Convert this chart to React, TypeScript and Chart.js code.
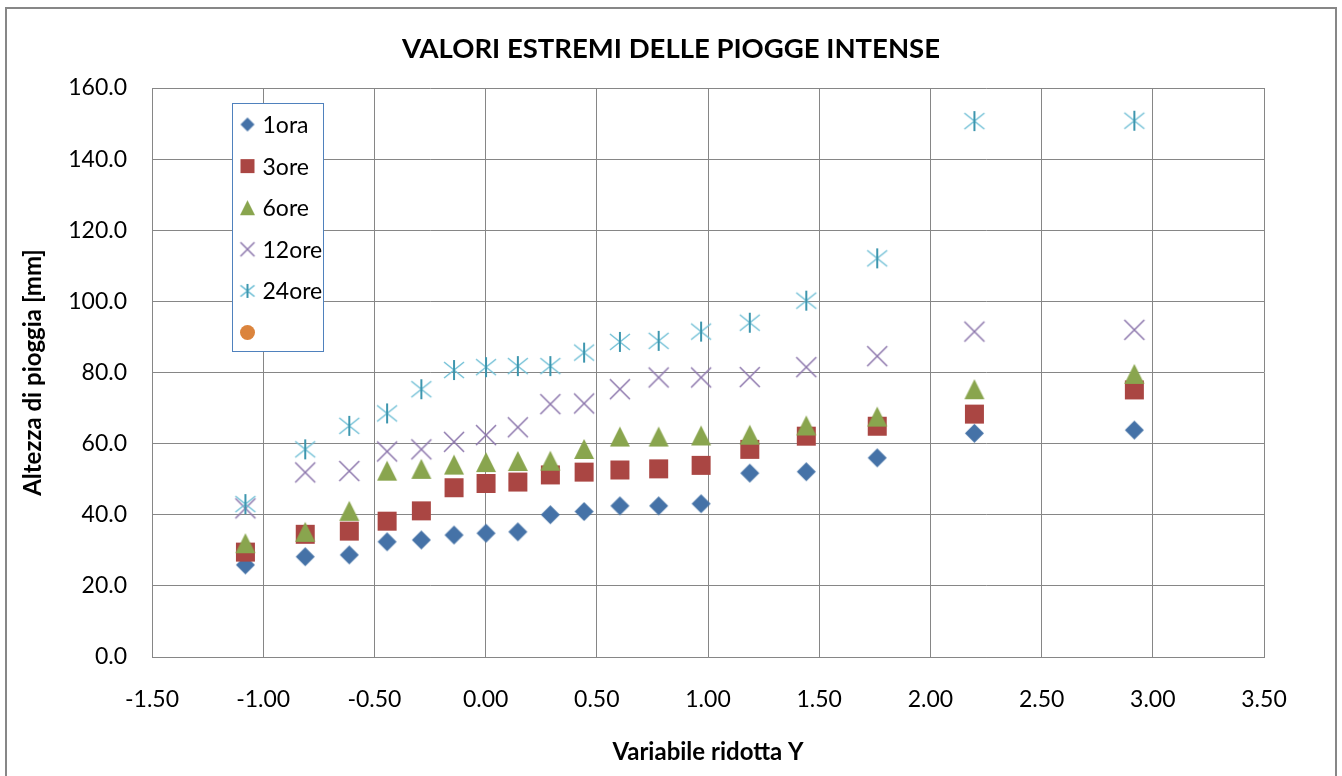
import React, { useEffect, useRef } from "react";
import { Chart, registerables } from "chart.js";

Chart.register(...registerables);

// Reduced variable Y (Gumbel) — x positions
const reducedY = [
  -1.08, -0.811, -0.613, -0.443, -0.289, -0.142, 0.002, 0.145, 0.291, 0.443,
  0.604, 0.778, 0.969, 1.188, 1.442, 1.761, 2.198, 2.917,
];

// Rainfall heights [mm]
const ora1 = [25.9, 28.2, 28.7, 32.4, 32.9, 34.3, 34.8, 35.2, 40.0, 40.9, 42.5, 42.5, 43.1, 51.7, 52.1, 56.0, 62.9, 63.8];
const ore3 = [29.5, 34.5, 35.4, 38.2, 41.1, 47.6, 48.8, 49.2, 51.2, 52.0, 52.6, 52.9, 53.9, 58.4, 62.1, 64.9, 68.3, 75.1];
const ore6 = [32.0, 35.2, 41.1, 52.4, 52.9, 54.1, 54.8, 55.1, 55.2, 58.5, 62.0, 62.0, 62.3, 62.5, 65.1, 67.6, 75.3, 79.6];
const ore12 = [41.8, 51.9, 52.3, 57.8, 58.4, 60.5, 62.4, 64.6, 71.1, 71.3, 75.3, 78.6, 78.6, 78.7, 81.5, 84.6, 91.5, 92.0];
const ore24 = [43.0, 58.4, 65.0, 68.5, 75.3, 80.7, 81.5, 81.8, 81.8, 85.6, 88.6, 88.9, 91.5, 94.0, 100.2, 112.1, 150.7, 150.8];
const emptySeries: number[] = [];

const seriesNames = ["1ora", "3ore", "6ore", "12ore", "24ore", ""];
const seriesKinds = ["diamond", "square", "triangle", "x", "star", "circle"];

const xMin = -1.5;
const xMax = 3.5;
const xStep = 0.5;
const yMin = 0;
const yMax = 160;
const yStep = 20;

const titleText = "VALORI ESTREMI DELLE PIOGGE INTENSE";
const xTitle = "Variabile ridotta Y";
const yTitle = "Altezza di pioggia [mm]";

const FONT = 'Lato, "Open Sans", sans-serif';

function makeMarker(kind: string, size: number): HTMLCanvasElement {
  const pad = 2;
  const s = Math.ceil(size + pad * 2);
  const c = document.createElement("canvas");
  c.width = s;
  c.height = s;
  const ctx = c.getContext("2d")!;
  const cx = s / 2;
  const cy = s / 2;
  const h = size / 2;
  ctx.lineCap = "butt";
  switch (kind) {
    case "diamond":
      ctx.fillStyle = "#4572A7";
      ctx.beginPath();
      ctx.moveTo(cx, cy - h);
      ctx.lineTo(cx + h, cy);
      ctx.lineTo(cx, cy + h);
      ctx.lineTo(cx - h, cy);
      ctx.closePath();
      ctx.fill();
      break;
    case "square":
      ctx.fillStyle = "#AA4643";
      ctx.fillRect(cx - h, cy - h, size, size);
      break;
    case "triangle":
      ctx.fillStyle = "#89A54E";
      ctx.beginPath();
      ctx.moveTo(cx, cy - h);
      ctx.lineTo(cx + h, cy + h);
      ctx.lineTo(cx - h, cy + h);
      ctx.closePath();
      ctx.fill();
      break;
    case "x":
      ctx.strokeStyle = "#8C76AC";
      ctx.lineWidth = 1.5;
      ctx.beginPath();
      ctx.moveTo(cx - h, cy - h);
      ctx.lineTo(cx + h, cy + h);
      ctx.moveTo(cx + h, cy - h);
      ctx.lineTo(cx - h, cy + h);
      ctx.stroke();
      break;
    case "star":
      ctx.strokeStyle = "#72C0D6";
      ctx.lineWidth = 1.5;
      ctx.beginPath();
      ctx.moveTo(cx - h, cy - h * 0.8);
      ctx.lineTo(cx + h, cy + h * 0.8);
      ctx.moveTo(cx + h, cy - h * 0.8);
      ctx.lineTo(cx - h, cy + h * 0.8);
      ctx.stroke();
      ctx.strokeStyle = "#3D96AE";
      ctx.lineWidth = 2;
      ctx.beginPath();
      ctx.moveTo(cx, cy - h);
      ctx.lineTo(cx, cy + h);
      ctx.stroke();
      break;
    case "circle":
      ctx.fillStyle = "#DB843D";
      ctx.beginPath();
      ctx.arc(cx, cy, h, 0, Math.PI * 2);
      ctx.fill();
      break;
  }
  return c;
}

export default function App() {
  const canvasRef = useRef<HTMLCanvasElement | null>(null);

  useEffect(() => {
    const canvas = canvasRef.current;
    if (!canvas) return;

    const plotSizes = [19, 19, 20, 20, 20, 16];
    const legendSizes = [14, 14, 15, 14, 14, 15];
    const plotMarkers = seriesKinds.map((k, i) => makeMarker(k, plotSizes[i]));
    const legendMarkers = seriesKinds.map((k, i) => makeMarker(k, legendSizes[i]));

    const seriesValues = [ora1, ore3, ore6, ore12, ore24, emptySeries];

    const datasets = seriesValues.map((vals, i) => ({
      label: seriesNames[i],
      data: vals.map((v, j) => ({ x: reducedY[j], y: v })),
      pointStyle: plotMarkers[i] as any,
      pointRadius: 10,
      pointHoverRadius: 10,
      showLine: false,
      order: 6 - i,
    }));

    const framePlugin = {
      id: "frame",
      beforeDraw(chart: any) {
        const { ctx, width, height } = chart;
        ctx.save();
        ctx.fillStyle = "#ffffff";
        ctx.fillRect(0, 0, width, height);
        ctx.strokeStyle = "#878787";
        ctx.lineWidth = 2;
        ctx.strokeRect(6, 8, 1330, height + 20);
        ctx.font = `bold 27.5px ${FONT}`;
        ctx.fillStyle = "#000000";
        ctx.textAlign = "center";
        ctx.textBaseline = "middle";
        ctx.fillText(titleText, width / 2, 49);
        ctx.restore();
      },
    };

    const legendPlugin = {
      id: "boxLegend",
      afterDatasetsDraw(chart: any) {
        const { ctx, chartArea } = chart;
        const x0 = chartArea.left + 80.5;
        const y0 = chartArea.top + 15.5;
        const w = 91;
        const h = 248;
        ctx.save();
        ctx.fillStyle = "#ffffff";
        ctx.fillRect(x0, y0, w, h);
        ctx.strokeStyle = "#4F81BD";
        ctx.lineWidth = 1;
        ctx.strokeRect(x0, y0, w, h);
        ctx.font = `23px ${FONT}`;
        ctx.fillStyle = "#000000";
        ctx.textAlign = "left";
        ctx.textBaseline = "middle";
        for (let i = 0; i < seriesNames.length; i++) {
          const cy = y0 + 21 + i * 41.6;
          const m = legendMarkers[i];
          ctx.drawImage(m, x0 + 15 - m.width / 2, cy - m.height / 2);
          ctx.fillText(seriesNames[i], x0 + 30, cy + 1);
        }
        ctx.restore();
      },
    };

    const chart = new Chart(canvas, {
      type: "scatter",
      data: { datasets },
      options: {
        animation: false,
        responsive: false,
        devicePixelRatio: 1,
        events: [],
        layout: { padding: { left: 0, right: 78, top: 88, bottom: 0 } },
        plugins: {
          legend: { display: false },
          tooltip: { enabled: false },
          title: { display: false },
        },
        scales: {
          x: {
            type: "linear",
            position: "bottom",
            min: xMin,
            max: xMax,
            afterFit: (scale: any) => {
              scale.height = 119;
            },
            ticks: {
              stepSize: xStep,
              color: "#000000",
              font: { family: FONT, size: 23 },
              padding: 29,
              maxRotation: 0,
              callback: (v: any) => Number(v).toFixed(2),
            },
            grid: { color: "#868686", lineWidth: 1, drawTicks: false },
            border: { display: true, color: "#868686", width: 1 },
            title: {
              display: true,
              text: xTitle,
              color: "#000000",
              font: { family: FONT, size: 24, weight: "bold", lineHeight: 1.2 },
              padding: { top: 0, bottom: 9.6 },
            },
          },
          y: {
            type: "linear",
            position: "left",
            min: yMin,
            max: yMax,
            afterFit: (scale: any) => {
              scale.width = 152;
            },
            ticks: {
              stepSize: yStep,
              color: "#000000",
              font: { family: FONT, size: 23 },
              padding: 25,
              callback: (v: any) => Number(v).toFixed(1),
            },
            grid: { color: "#868686", lineWidth: 1, drawTicks: false },
            border: { display: true, color: "#868686", width: 1 },
            title: {
              display: true,
              text: yTitle,
              color: "#000000",
              font: { family: FONT, size: 24, weight: "bold", lineHeight: 1.2 },
              padding: { top: 19, bottom: 0 },
            },
          },
        },
      } as any,
      plugins: [framePlugin, legendPlugin],
    });

    return () => {
      chart.destroy();
    };
  }, []);

  return (
    <div style={{ position: "fixed", left: 0, top: 0, width: 1342, height: 776, background: "#fff" }}>
      <canvas ref={canvasRef} width={1342} height={776} style={{ display: "block" }} />
    </div>
  );
}
